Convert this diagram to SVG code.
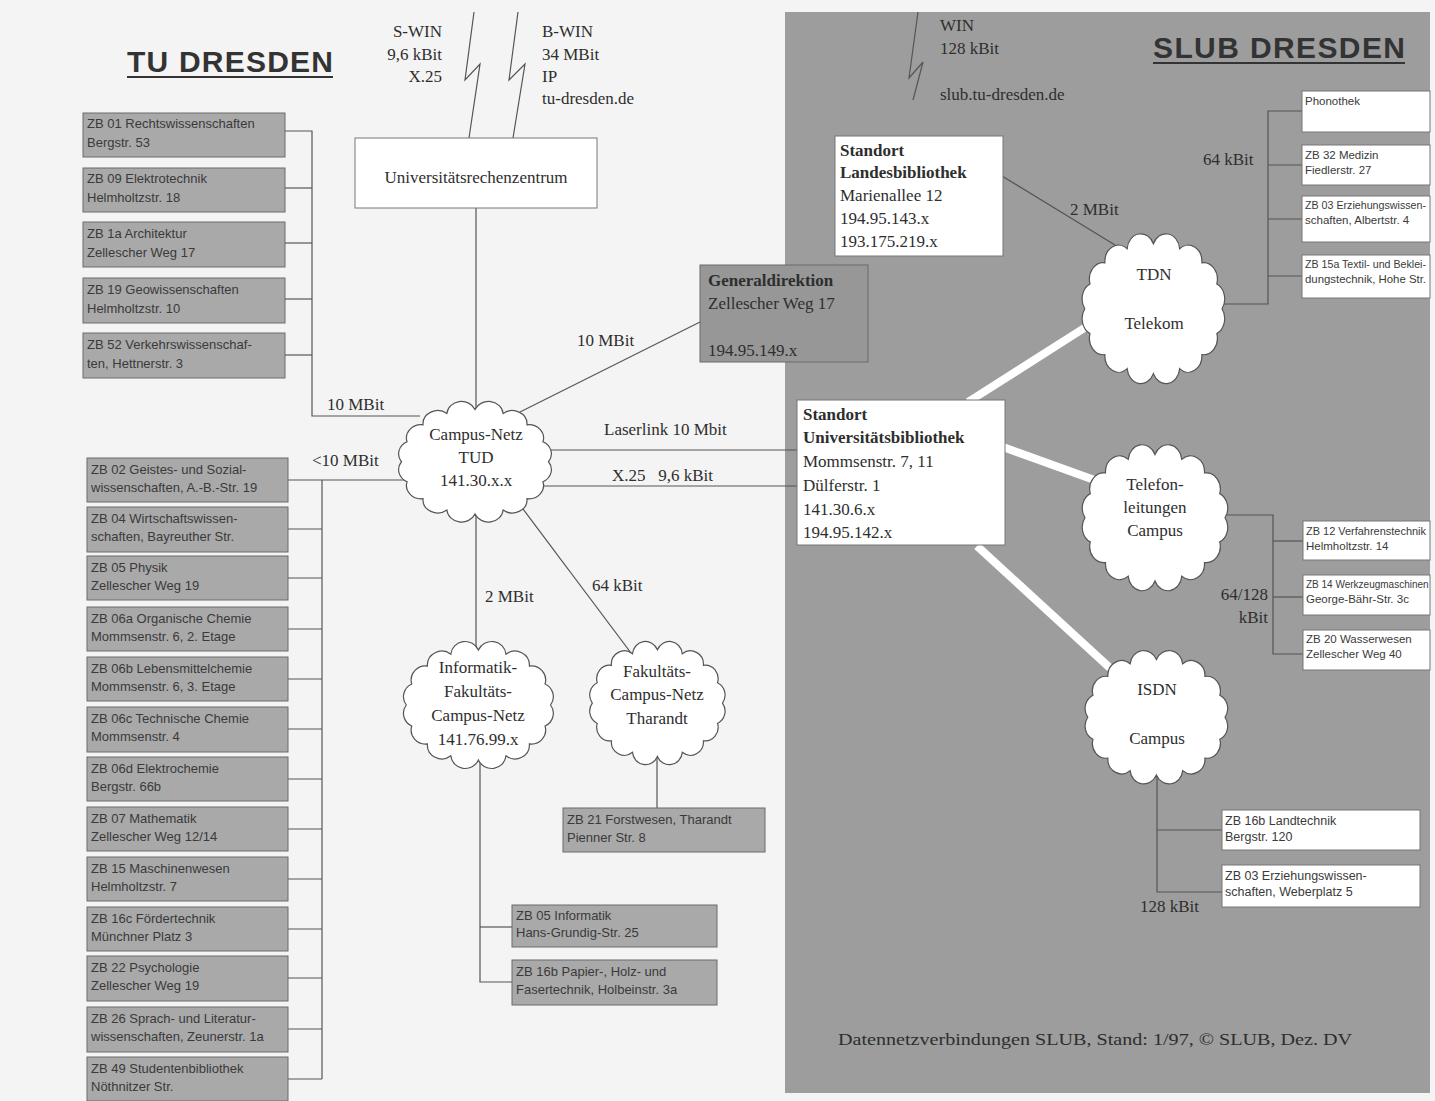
<svg xmlns="http://www.w3.org/2000/svg" width="1435" height="1101" viewBox="0 0 1435 1101">
<style>
.bg{fill:#f4f4f4}
.panel{fill:#9d9d9d}
.box{fill:#a9a9a9;stroke:#6a6a6a;stroke-width:1}
.gbox{fill:#979797;stroke:#6a6a6a;stroke-width:1}
.wbox{fill:#ffffff;stroke:#777;stroke-width:1}
.st{font-family:"Liberation Sans",Arial,sans-serif;font-size:13px;fill:#3a3a3a}
.sr{font-family:"Liberation Sans",Arial,sans-serif;font-size:12.5px;fill:#3a3a3a}
.sx{font-family:"Liberation Sans",Arial,sans-serif;font-size:11.5px;fill:#3a3a3a}
.sxs{font-family:"Liberation Sans",Arial,sans-serif;font-size:10px;fill:#3a3a3a}
.lbl{font-family:"Liberation Serif","Times New Roman",serif;font-size:17px;fill:#2e2e2e}
.c{text-anchor:middle}
.r{text-anchor:end}
.b{font-weight:bold}
.ttl{font-family:"Liberation Sans",Arial,sans-serif;font-weight:bold;fill:#333}
.ln{stroke:#555;stroke-width:1.2;fill:none}
.thick{stroke:#ffffff;stroke-width:8;fill:none}
.cl{fill:#ffffff;stroke:#555;stroke-width:1.2;vector-effect:non-scaling-stroke}
</style>
<defs>
<path id="cloud" class="cl" d="M150,65 A14,14 0 0 1 144.7,86 A14,14 0 0 1 129.5,103.9 A14,14 0 0 1 106.8,115.8 A14,14 0 0 1 80,120 A14,14 0 0 1 53.2,115.8 A14,14 0 0 1 30.5,103.9 A14,14 0 0 1 15.3,86 A14,14 0 0 1 10,65 A14,14 0 0 1 15.3,44 A14,14 0 0 1 30.5,26.1 A14,14 0 0 1 53.2,14.2 A14,14 0 0 1 80,10 A14,14 0 0 1 106.8,14.2 A14,14 0 0 1 129.5,26.1 A14,14 0 0 1 144.7,44 A14,14 0 0 1 150,65 Z"/>
</defs>
<rect class="bg" x="0" y="0" width="1435" height="1101"/>
<rect class="panel" x="785" y="12" width="645" height="1081"/>

<!-- titles -->
<g id="title-tu">
<text class="ttl" x="127" y="72" font-size="30" textLength="206">TU DRESDEN</text>
<line x1="127" y1="77" x2="333" y2="77" stroke="#333" stroke-width="2"/>
</g>
<g id="title-slub">
<text class="ttl" x="1153" y="58" font-size="30" textLength="252">SLUB DRESDEN</text>
<line x1="1153" y1="63" x2="1405" y2="63" stroke="#333" stroke-width="2"/>
</g>

<!-- connectors -->
<g id="connectors">
<path class="ln" d="M474,12 L465,80 L480,64 L469,138"/>
<path class="ln" d="M518,12 L509,80 L525,64 L513,138"/>
<path class="ln" d="M918,12 L909,78 L923,62 L913,100"/>
<line class="ln" x1="476" y1="208" x2="476" y2="430"/>
<polyline class="ln" points="285,131 312,131 312,416 420,416"/>
<line class="ln" x1="285" y1="188" x2="312" y2="188"/>
<line class="ln" x1="285" y1="243" x2="312" y2="243"/>
<line class="ln" x1="285" y1="299" x2="312" y2="299"/>
<line class="ln" x1="285" y1="355" x2="312" y2="355"/>
<line class="ln" x1="288" y1="480" x2="420" y2="480"/>
<line class="ln" x1="322" y1="480" x2="322" y2="1079"/>
<line class="ln" x1="288" y1="529" x2="322" y2="529"/>
<line class="ln" x1="288" y1="578" x2="322" y2="578"/>
<line class="ln" x1="288" y1="629" x2="322" y2="629"/>
<line class="ln" x1="288" y1="679" x2="322" y2="679"/>
<line class="ln" x1="288" y1="729" x2="322" y2="729"/>
<line class="ln" x1="288" y1="779" x2="322" y2="779"/>
<line class="ln" x1="288" y1="829" x2="322" y2="829"/>
<line class="ln" x1="288" y1="879" x2="322" y2="879"/>
<line class="ln" x1="288" y1="929" x2="322" y2="929"/>
<line class="ln" x1="288" y1="978" x2="322" y2="978"/>
<line class="ln" x1="288" y1="1029" x2="322" y2="1029"/>
<line class="ln" x1="288" y1="1079" x2="322" y2="1079"/>
<line class="ln" x1="520" y1="412" x2="700" y2="322"/>
<line class="ln" x1="530" y1="450" x2="797" y2="450"/>
<line class="ln" x1="530" y1="486" x2="797" y2="486"/>
<line class="ln" x1="476" y1="500" x2="476" y2="660"/>
<line class="ln" x1="520" y1="505" x2="640" y2="665"/>
<line class="ln" x1="657" y1="740" x2="657" y2="808"/>
<polyline class="ln" points="480,750 480,982 512,982"/>
<line class="ln" x1="480" y1="927" x2="512" y2="927"/>
<line class="ln" x1="1002" y1="176" x2="1115" y2="245"/>
<polyline class="ln" points="1210,304 1268,304 1268,111 1302,111"/>
<line class="ln" x1="1268" y1="165" x2="1302" y2="165"/>
<line class="ln" x1="1268" y1="219" x2="1302" y2="219"/>
<line class="ln" x1="1268" y1="276" x2="1302" y2="276"/>
<polyline class="ln" points="1215,515 1273,515 1273,654 1303,654"/>
<line class="ln" x1="1273" y1="541" x2="1303" y2="541"/>
<line class="ln" x1="1273" y1="597" x2="1303" y2="597"/>
<polyline class="ln" points="1157,770 1157,892 1222,892"/>
<line class="ln" x1="1157" y1="830" x2="1222" y2="830"/>
<line class="thick" x1="968" y1="402" x2="1100" y2="318"/>
<line class="thick" x1="1003" y1="447" x2="1100" y2="482"/>
<line class="thick" x1="977" y1="546" x2="1110" y2="668"/>
</g>

<!-- connector labels -->
<g id="labels">
<text class="lbl r" x="442" y="37">S-WIN</text>
<text class="lbl r" x="442" y="60">9,6 kBit</text>
<text class="lbl r" x="442" y="82">X.25</text>
<text class="lbl" x="542" y="37">B-WIN</text>
<text class="lbl" x="542" y="60">34 MBit</text>
<text class="lbl" x="542" y="82">IP</text>
<text class="lbl" x="542" y="104">tu-dresden.de</text>
<text class="lbl" x="940" y="31">WIN</text>
<text class="lbl" x="940" y="54">128 kBit</text>
<text class="lbl" x="940" y="100">slub.tu-dresden.de</text>
<text class="lbl" x="327" y="410">10 MBit</text>
<text class="lbl" x="312" y="466">&lt;10 MBit</text>
<text class="lbl" x="577" y="346">10 MBit</text>
<text class="lbl" x="604" y="435">Laserlink 10 Mbit</text>
<text class="lbl" x="612" y="481" xml:space="preserve">X.25   9,6 kBit</text>
<text class="lbl" x="485" y="602">2 MBit</text>
<text class="lbl" x="592" y="591">64 kBit</text>
<text class="lbl" x="1070" y="215">2 MBit</text>
<text class="lbl" x="1203" y="165">64 kBit</text>
<text class="lbl r" x="1268" y="600">64/128</text>
<text class="lbl r" x="1268" y="623">kBit</text>
<text class="lbl" x="1140" y="912">128 kBit</text>
<text class="lbl" x="838" y="1045" font-size="18" textLength="514" lengthAdjust="spacingAndGlyphs">Datennetzverbindungen SLUB, Stand: 1/97, © SLUB, Dez. DV</text>
</g>

<!-- central nodes -->
<g id="urz">
<rect class="wbox" x="355" y="138" width="242" height="70"/>
<text class="lbl c" x="476" y="183">Universitätsrechenzentrum</text>
</g>
<g id="campus-tud">
<use href="#cloud" transform="translate(391,400) scale(1.05,0.95)"/>
<text class="lbl c" x="476" y="440">Campus-Netz</text>
<text class="lbl c" x="476" y="463">TUD</text>
<text class="lbl c" x="476" y="486">141.30.x.x</text>
</g>
<g id="informatik">
<use href="#cloud" transform="translate(396,640) scale(1.03,1.0)"/>
<text class="lbl c" x="478" y="673">Informatik-</text>
<text class="lbl c" x="478" y="697">Fakultäts-</text>
<text class="lbl c" x="478" y="721">Campus-Netz</text>
<text class="lbl c" x="478" y="745">141.76.99.x</text>
</g>
<g id="tharandt">
<use href="#cloud" transform="translate(583,640) scale(0.93,0.97)"/>
<text class="lbl c" x="657" y="677">Fakultäts-</text>
<text class="lbl c" x="657" y="700">Campus-Netz</text>
<text class="lbl c" x="657" y="724">Tharandt</text>
</g>
<g id="generaldirektion">
<rect class="gbox" x="700" y="265" width="168" height="97"/>
<text class="lbl b" x="708" y="286">Generaldirektion</text>
<text class="lbl" x="708" y="309">Zellescher Weg 17</text>
<text class="lbl" x="708" y="356">194.95.149.x</text>
</g>
<g id="standort-ub">
<rect class="wbox" x="797" y="400" width="208" height="145"/>
<text class="lbl b" x="803" y="420">Standort</text>
<text class="lbl b" x="803" y="443">Universitätsbibliothek</text>
<text class="lbl" x="803" y="467">Mommsenstr. 7, 11</text>
<text class="lbl" x="803" y="491">Dülferstr. 1</text>
<text class="lbl" x="803" y="515">141.30.6.x</text>
<text class="lbl" x="803" y="538">194.95.142.x</text>
</g>
<g id="standort-lb">
<rect class="wbox" x="835" y="136" width="168" height="120"/>
<text class="lbl b" x="840" y="156">Standort</text>
<text class="lbl b" x="840" y="178">Landesbibliothek</text>
<text class="lbl" x="840" y="201">Marienallee 12</text>
<text class="lbl" x="840" y="224">194.95.143.x</text>
<text class="lbl" x="840" y="247">193.175.219.x</text>
</g>
<g id="tdn">
<use href="#cloud" transform="translate(1075,232) scale(0.98,1.18)"/>
<text class="lbl c" x="1154" y="280">TDN</text>
<text class="lbl c" x="1154" y="329">Telekom</text>
</g>
<g id="telefon">
<use href="#cloud" transform="translate(1075,443) scale(1.0,1.15)"/>
<text class="lbl c" x="1155" y="490">Telefon-</text>
<text class="lbl c" x="1155" y="513">leitungen</text>
<text class="lbl c" x="1155" y="536">Campus</text>
</g>
<g id="isdn">
<use href="#cloud" transform="translate(1078,649) scale(0.98,1.05)"/>
<text class="lbl c" x="1157" y="695">ISDN</text>
<text class="lbl c" x="1157" y="744">Campus</text>
</g>

<!-- left top branch libraries -->
<g id="zb01"><rect class="box" x="83" y="113" width="202" height="44"/><text class="st" x="87" y="128">ZB 01 Rechtswissenschaften</text><text class="st" x="87" y="147">Bergstr. 53</text></g>
<g id="zb09"><rect class="box" x="83" y="168" width="202" height="44"/><text class="st" x="87" y="183">ZB 09 Elektrotechnik</text><text class="st" x="87" y="202">Helmholtzstr. 18</text></g>
<g id="zb1a"><rect class="box" x="83" y="222" width="202" height="45"/><text class="st" x="87" y="238">ZB 1a Architektur</text><text class="st" x="87" y="257">Zellescher Weg 17</text></g>
<g id="zb19"><rect class="box" x="83" y="278" width="202" height="45"/><text class="st" x="87" y="294">ZB 19 Geowissenschaften</text><text class="st" x="87" y="313">Helmholtzstr. 10</text></g>
<g id="zb52"><rect class="box" x="83" y="333" width="202" height="45"/><text class="st" x="87" y="349">ZB 52 Verkehrswissenschaf-</text><text class="st" x="87" y="368">ten, Hettnerstr. 3</text></g>

<!-- left lower branch libraries -->
<g id="zb02"><rect class="box" x="87" y="458" width="201" height="44"/><text class="st" x="91" y="474">ZB 02 Geistes- und Sozial-</text><text class="st" x="91" y="492">wissenschaften, A.-B.-Str. 19</text></g>
<g id="zb04"><rect class="box" x="87" y="507" width="201" height="45"/><text class="st" x="91" y="523">ZB 04 Wirtschaftswissen-</text><text class="st" x="91" y="541">schaften, Bayreuther Str.</text></g>
<g id="zb05p"><rect class="box" x="87" y="556" width="201" height="44"/><text class="st" x="91" y="572">ZB 05 Physik</text><text class="st" x="91" y="590">Zellescher Weg 19</text></g>
<g id="zb06a"><rect class="box" x="87" y="607" width="201" height="44"/><text class="st" x="91" y="623">ZB 06a Organische Chemie</text><text class="st" x="91" y="641">Mommsenstr. 6, 2. Etage</text></g>
<g id="zb06b"><rect class="box" x="87" y="657" width="201" height="44"/><text class="st" x="91" y="673">ZB 06b Lebensmittelchemie</text><text class="st" x="91" y="691">Mommsenstr. 6, 3. Etage</text></g>
<g id="zb06c"><rect class="box" x="87" y="707" width="201" height="45"/><text class="st" x="91" y="723">ZB 06c Technische Chemie</text><text class="st" x="91" y="741">Mommsenstr. 4</text></g>
<g id="zb06d"><rect class="box" x="87" y="757" width="201" height="44"/><text class="st" x="91" y="773">ZB 06d Elektrochemie</text><text class="st" x="91" y="791">Bergstr. 66b</text></g>
<g id="zb07"><rect class="box" x="87" y="807" width="201" height="44"/><text class="st" x="91" y="823">ZB 07 Mathematik</text><text class="st" x="91" y="841">Zellescher Weg 12/14</text></g>
<g id="zb15"><rect class="box" x="87" y="857" width="201" height="44"/><text class="st" x="91" y="873">ZB 15 Maschinenwesen</text><text class="st" x="91" y="891">Helmholtzstr. 7</text></g>
<g id="zb16c"><rect class="box" x="87" y="907" width="201" height="44"/><text class="st" x="91" y="923">ZB 16c Fördertechnik</text><text class="st" x="91" y="941">Münchner Platz 3</text></g>
<g id="zb22"><rect class="box" x="87" y="956" width="201" height="45"/><text class="st" x="91" y="972">ZB 22 Psychologie</text><text class="st" x="91" y="990">Zellescher Weg 19</text></g>
<g id="zb26"><rect class="box" x="87" y="1007" width="201" height="45"/><text class="st" x="91" y="1023">ZB 26 Sprach- und Literatur-</text><text class="st" x="91" y="1041">wissenschaften, Zeunerstr. 1a</text></g>
<g id="zb49"><rect class="box" x="87" y="1057" width="201" height="44"/><text class="st" x="91" y="1073">ZB 49 Studentenbibliothek</text><text class="st" x="91" y="1091">Nöthnitzer Str.</text></g>

<!-- middle branch libraries -->
<g id="zb21"><rect class="box" x="563" y="808" width="202" height="44"/><text class="st" x="567" y="824">ZB 21 Forstwesen, Tharandt</text><text class="st" x="567" y="842">Pienner Str. 8</text></g>
<g id="zb05i"><rect class="box" x="512" y="905" width="205" height="42"/><text class="st" x="516" y="920">ZB 05 Informatik</text><text class="st" x="516" y="937">Hans-Grundig-Str. 25</text></g>
<g id="zb16b"><rect class="box" x="512" y="960" width="205" height="45"/><text class="st" x="516" y="976">ZB 16b Papier-, Holz- und</text><text class="st" x="516" y="994">Fasertechnik, Holbeinstr. 3a</text></g>

<!-- right branch libraries -->
<g id="phonothek"><rect class="wbox" x="1302" y="91" width="128" height="41"/><text class="sx" x="1305" y="105">Phonothek</text></g>
<g id="zb32"><rect class="wbox" x="1302" y="145" width="128" height="40"/><text class="sx" x="1305" y="159">ZB 32 Medizin</text><text class="sx" x="1305" y="174">Fiedlerstr. 27</text></g>
<g id="zb03a"><rect class="wbox" x="1302" y="196" width="128" height="46"/><text class="sx" x="1305" y="209" textLength="121" lengthAdjust="spacingAndGlyphs">ZB 03 Erziehungswissen-</text><text class="sx" x="1305" y="224">schaften, Albertstr. 4</text></g>
<g id="zb15a"><rect class="wbox" x="1302" y="255" width="128" height="43"/><text class="sx" x="1305" y="268" textLength="121" lengthAdjust="spacingAndGlyphs">ZB 15a Textil- und Beklei-</text><text class="sx" x="1305" y="283" textLength="121" lengthAdjust="spacingAndGlyphs">dungstechnik, Hohe Str.</text></g>
<g id="zb12"><rect class="wbox" x="1303" y="521" width="127" height="39"/><text class="sx" x="1306" y="535" textLength="120" lengthAdjust="spacingAndGlyphs">ZB 12 Verfahrenstechnik</text><text class="sx" x="1306" y="550">Helmholtzstr. 14</text></g>
<g id="zb14"><rect class="wbox" x="1303" y="575" width="127" height="40"/><text class="sxs" x="1306" y="588">ZB 14 Werkzeugmaschinen</text><text class="sx" x="1306" y="603">George-Bähr-Str. 3c</text></g>
<g id="zb20"><rect class="wbox" x="1303" y="630" width="127" height="40"/><text class="sx" x="1306" y="643">ZB 20 Wasserwesen</text><text class="sx" x="1306" y="658">Zellescher Weg 40</text></g>
<g id="zb16bl"><rect class="wbox" x="1222" y="810" width="198" height="40"/><text class="sr" x="1225" y="825">ZB 16b Landtechnik</text><text class="sr" x="1225" y="841">Bergstr. 120</text></g>
<g id="zb03w"><rect class="wbox" x="1222" y="865" width="198" height="42"/><text class="sr" x="1225" y="880">ZB 03 Erziehungswissen-</text><text class="sr" x="1225" y="896">schaften, Weberplatz 5</text></g>
</svg>
